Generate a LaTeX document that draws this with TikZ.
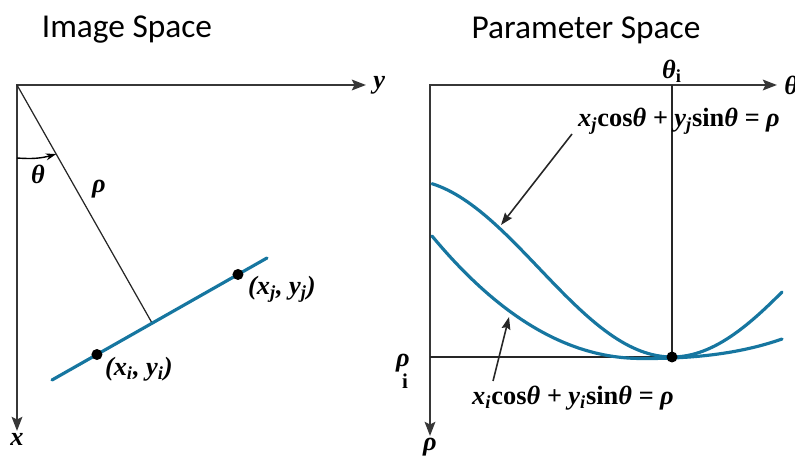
\documentclass[tikz,border=0pt]{standalone}
\usepackage{fontspec}
\newfontfamily\titlefont{Carlito}
\newfontfamily\timesfont{Liberation Serif}
\usetikzlibrary{calc, positioning}
\usetikzlibrary{arrows.meta}

\definecolor{curveblue}{RGB}{22,118,160}
\definecolor{axisgray}{RGB}{55,55,55}
\newcommand{\lowidx}[1]{\textsubscript{#1}}
\newcommand{\upr}[1]{{\upshape #1}}

\tikzset{
  axis/.style={line width=1.5pt, axisgray, line cap=rect, -{Stealth[length=8pt, width=6pt, inset=1.5pt]}},
  guide/.style={line width=0.7pt, black!85},
  houghline/.style={line width=1.8pt, curveblue, line cap=round},
  lbl/.style={font=\timesfont\bfseries\itshape\fontsize{15}{17}\selectfont, inner sep=1pt},
  heading/.style={font=\titlefont\fontsize{19}{22}\selectfont, inner sep=0pt},
  pointer/.style={line width=0.9pt, black!85, -{Stealth[length=7pt, width=5pt, inset=1pt]}},
}

\begin{document}
\begin{tikzpicture}[x=0.02cm, y=-0.02cm, line join=round]
\useasboundingbox (0,0) rectangle (795,459);

% Headings
\node[heading] (imgtitle) at (127,30) {Image Space};
\node[heading] (partitle) at (586,30) {Parameter Space};

% Image space: axes
\coordinate (O) at (17,85);
\coordinate (Yend) at (366,85);
\coordinate (Xend) at (17,431);
\draw[axis] (O) -- (Yend);
\draw[axis] (O) -- (Xend);
\node[lbl, right=3pt of Yend] (ylab) {y};
\node[lbl, below=0pt of Xend] (xlab) {x};

% The line through both points, and its normal from the origin
\coordinate (L1) at (52,380);
\coordinate (L2) at (267,258);
\coordinate (Pi) at ($(L1)!0.209!(L2)$);
\coordinate (Pj) at ($(L1)!0.865!(L2)$);
\coordinate (Foot) at ($(L1)!(O)!(L2)$);
\draw[guide] (O) -- (Foot);
\draw[houghline] (L1) -- (L2);
\fill (Pi) circle (5.5);
\fill (Pj) circle (5.5);
\node[lbl, anchor=west] (pilab) at ($(Pi)+(6,15)$) {(x\lowidx{i}, y\lowidx{i})};
\node[lbl, anchor=west] (pjlab) at ($(Pj)+(8,15)$) {(x\lowidx{j}, y\lowidx{j})};
\node[lbl] (rholab) at (99,189) {ρ};

% Angle between x axis and the normal
\coordinate (A1) at (17,158);
\coordinate (A2) at ($(O)!0.29!(Foot)$);
\draw[line width=0.8pt, -{Stealth[length=6pt, width=4pt]}] (A1) to[bend right=10] (A2);
\node[lbl] (thetalab) at (38,174) {θ};

% Parameter space: axes
\coordinate (Q) at (430,85);
\coordinate (Tend) at (777,85);
\coordinate (Rend) at (430,436);
\draw[axis] (Q) -- (Tend);
\draw[axis] (Q) -- (Rend);
\node[lbl, right=3pt of Tend] (thlab) {θ};
\node[lbl, below=0pt of Rend] (rhlab) {ρ};

% Crossing point of the two curves
\coordinate (Hit) at (672,357);
\coordinate (Ttop) at (672,85);
\coordinate (Rleft) at (430,357);
\draw[guide] (Ttop) -- (Hit);
\draw[guide] (Rleft) -- (Hit);
\node[lbl, above=0pt of Ttop] (thilab) {θ\lowidx{\upr{i}}};
\node[lbl, inner sep=0pt] (rhilab) at (403,363) {ρ};
\node[lbl, inner sep=0pt, font=\timesfont\bfseries\fontsize{12}{14}\selectfont] (rhisub) at (405,381) {i};

% Sinusoids of the two points
\draw[houghline] plot[domain=432:782, samples=90] (\x, {357 - 88.7*(1 - cos(0.6772*(\x-672)))});
\draw[houghline] (432,236) .. controls (510,330) and (580,358) .. (640,358.5)
  .. controls (700,359) and (745,352) .. (782,339);
\fill (Hit) circle (5.5);

% Equation labels with pointers
\node[lbl] (eqj) at (679,121) {x\lowidx{j}\upr{cos}θ + y\lowidx{j}\upr{sin}θ = ρ};
\node[lbl] (eqi) at (573,398) {x\lowidx{i}\upr{cos}θ + y\lowidx{i}\upr{sin}θ = ρ};
\coordinate (jtail) at (572,134);
\coordinate (jhead) at (501,225);
\coordinate (itail) at (493,381);
\coordinate (ihead) at (509,317);
\draw[pointer] (jtail) -- (jhead);
\draw[pointer] (itail) -- (ihead);
\end{tikzpicture}
\end{document}
